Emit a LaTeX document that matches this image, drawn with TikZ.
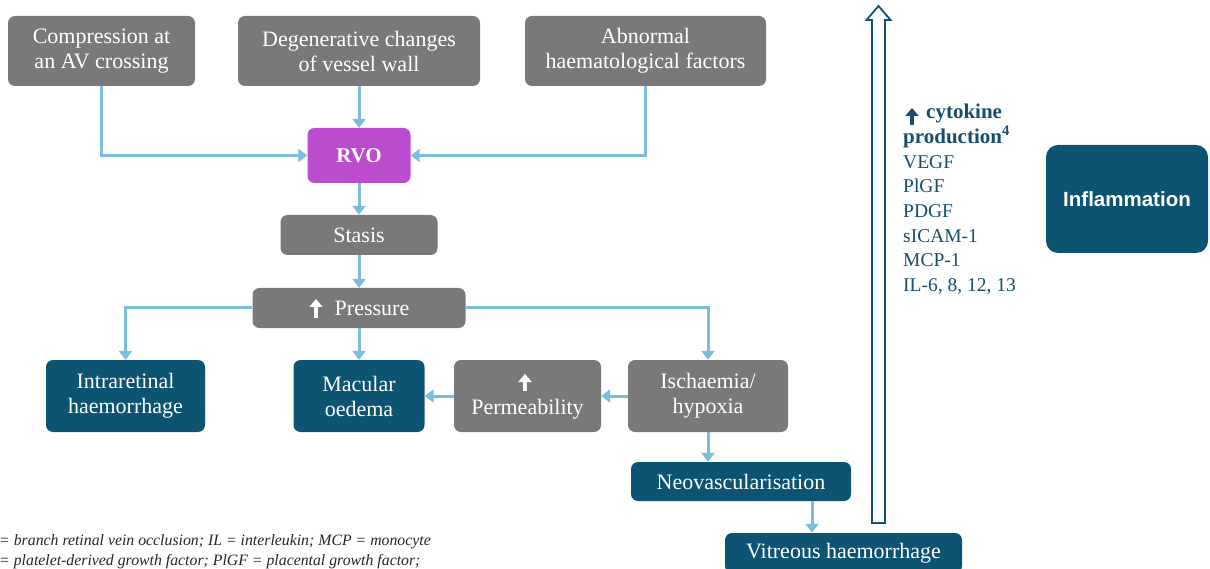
\documentclass[tikz,border=0pt]{standalone}
\usepackage{fontspec}
\setmainfont{Liberation Serif}
\newfontfamily\sansfam{Liberation Sans}
\usetikzlibrary{arrows.meta,calc}
\definecolor{boxgray}{RGB}{121,121,121}
\definecolor{tealbox}{RGB}{12,84,114}
\definecolor{rvopurple}{RGB}{186,76,205}
\definecolor{arrowblue}{RGB}{122,190,220}
\definecolor{cytoblue}{RGB}{22,78,108}
\tikzset{
  basebox/.style={rounded corners=7pt, text=white, align=center, inner sep=0pt,
    font=\fontsize{22}{25}\selectfont},
  graybox/.style={basebox, fill=boxgray},
  tealnode/.style={basebox, fill=tealbox},
  purplebox/.style={basebox, fill=rvopurple, font=\fontsize{21}{25}\selectfont\bfseries},
  conn/.style={draw=arrowblue, line width=3pt, -{Triangle[width=13pt,length=9pt]}},
  glypharrow/.style={line width=4.5pt, -{Triangle[width=13pt,length=8pt]}},
  footnote/.style={anchor=base west, inner sep=0pt, text=black!85, font=\itshape\fontsize{15.8}{20}\selectfont},
}
\begin{document}
\begin{tikzpicture}[x=1pt,y=-1pt]
\useasboundingbox (0,0) rectangle (1210,569);
% top row
\node[graybox, minimum width=187pt, minimum height=70pt] (comp) at (101.5,51) {Compression at\\an AV crossing};
\node[graybox, minimum width=242pt, minimum height=70pt] (degen) at (359,51) {Degenerative changes\\of vessel wall};
\node[graybox, minimum width=241pt, minimum height=70pt] (abn) at (645.5,51) {Abnormal\\haematological factors};
% RVO
\node[purplebox, minimum width=103pt, minimum height=55pt] (rvo) at (359,155.5) {RVO};
\node[graybox, minimum width=157pt, minimum height=40pt] (stasis) at (359,235) {Stasis};
\node[graybox, minimum width=213pt, minimum height=40pt] (press) at (359,308) {\hspace*{26pt}Pressure};
% third row
\node[tealnode, minimum width=159pt, minimum height=72pt] (intra) at (125.5,396) {Intraretinal\\haemorrhage};
\node[tealnode, minimum width=131pt, minimum height=72pt] (macular) at (359,396) {Macular\\oedema};
\node[graybox, minimum width=147pt, minimum height=72pt] (perm) at (527.5,396) {\strut\\Permeability};
\node[graybox, minimum width=160pt, minimum height=72pt] (isch) at (708,396) {Ischaemia/\\hypoxia};
\node[tealnode, minimum width=220pt, minimum height=39pt] (neo) at (741,481.5) {Neovascularisation};
\node[tealnode, minimum width=237pt, minimum height=40pt] (vit) at (843.5,553) {Vitreous haemorrhage};
% inflammation
\node[basebox, fill=tealbox, rounded corners=12pt, minimum width=162pt, minimum height=108pt,
  font=\sansfam\bfseries\fontsize{20.5}{23}\selectfont] (infl) at (1127,199) {Inflammation};
% cytokines
\node[anchor=north west, align=left, text=cytoblue, inner sep=0pt,
  font=\fontsize{19.5}{24.7}\selectfont] (cyto) at (903,104)
  {\textbf{\fontsize{21}{24.7}\selectfont\hspace*{23pt}cytokine}\\\textbf{\fontsize{21}{24.7}\selectfont production\textsuperscript{4}}\\VEGF\\PlGF\\PDGF\\sICAM-1\\MCP-1\\IL-6, 8, 12, 13};
% glyph arrows
\draw[glypharrow, white] (316,318) -- (316,299);
\draw[glypharrow, white] (525,391) -- (525,374);
\draw[glypharrow, cytoblue] (912,125) -- (912,108);
% hollow arrow
\coordinate (hbottom) at (878.5,523);
\draw[draw=tealbox, line width=1.8pt, fill=white, line join=miter]
  ($(hbottom)+(-6.5,0)$) -- (872,20) -- (866.5,20) -- (878.5,6) -- (890.5,20) -- (885,20) -- (885,523) -- cycle;
% connectors
\draw[conn] (comp.south) |- (rvo.west);
\draw[conn] (degen.south) -- (rvo.north);
\draw[conn] (abn.south) |- (rvo.east);
\draw[conn] (rvo) -- (stasis);
\draw[conn] (stasis) -- (press);
\draw[conn] (press.west) -| (intra.north);
\draw[conn] (press.east) -| (isch.north);
\draw[conn] (press) -- (macular);
\draw[conn] (isch) -- (perm);
\draw[conn] (perm) -- (macular);
\draw[conn] (isch.south) -- (isch.south |- neo.north);
\coordinate (nvx) at (812,0);
\draw[conn] (neo.south -| nvx) -- (vit.north -| nvx);
% footnote
\node[footnote] (fn1) at (-1,545) {= branch retinal vein occlusion; IL = interleukin; MCP = monocyte};
\node[footnote] (fn2) at (-1,565) {= platelet-derived growth factor; PlGF = placental growth factor;};
\end{tikzpicture}
\end{document}
